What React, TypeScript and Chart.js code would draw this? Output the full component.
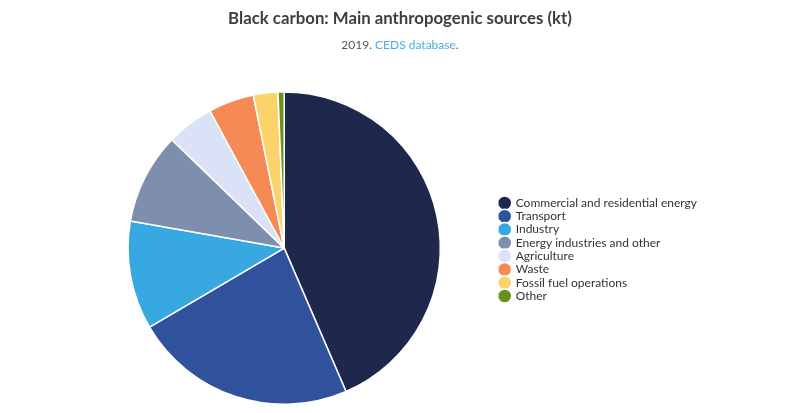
import React, { useEffect, useRef } from "react";
import { Chart, registerables } from "chart.js";

Chart.register(...registerables);

const categories = [
  "Commercial and residential energy",
  "Transport",
  "Industry",
  "Energy industries and other",
  "Agriculture",
  "Waste",
  "Fossil fuel operations",
  "Other",
];
const values = [2400, 1270, 620, 520, 270, 260, 140, 35];
const colors = [
  "#1e284c",
  "#30519b",
  "#38a9e0",
  "#7e8fae",
  "#d9e2f6",
  "#f58a55",
  "#fcd36a",
  "#6a8f1a",
];
const titleText = "Black carbon: Main anthropogenic sources (kt)";
const subtitleParts = ["2019. ", "CEDS database", "."];

const headerPlugin = {
  id: "header",
  afterDraw(chart: any) {
    const ctx = chart.ctx;
    ctx.save();
    ctx.textBaseline = "middle";
    ctx.textAlign = "center";
    ctx.font = "bold 16.8px Lato";
    ctx.fillStyle = "#3d3d3d";
    ctx.fillText(titleText, chart.width / 2, 18.5);
    ctx.font = "12px Lato";
    ctx.textAlign = "left";
    const cols = ["#555555", "#45b0e5", "#555555"];
    const widths = subtitleParts.map((p) => ctx.measureText(p).width);
    const total = widths.reduce((a, b) => a + b, 0);
    let x = chart.width / 2 - total / 2;
    subtitleParts.forEach((p, i) => {
      ctx.fillStyle = cols[i];
      ctx.fillText(p, x, 45);
      x += widths[i];
    });
    ctx.restore();
  },
};

export default function App() {
  const ref = useRef<HTMLCanvasElement | null>(null);
  useEffect(() => {
    if (!ref.current) return;
    const chart = new Chart(ref.current, {
      type: "pie",
      data: {
        labels: categories,
        datasets: [
          {
            data: values,
            backgroundColor: colors,
            borderColor: "#ffffff",
            borderWidth: 1.5,
          },
        ],
      },
      options: {
        animation: false,
        responsive: true,
        maintainAspectRatio: false,
        layout: { padding: { left: 70, right: 93, bottom: 8 } },
        plugins: {
          title: {
            display: true,
            text: " ",
            color: "rgba(0,0,0,0)",
            font: { family: "Lato", size: 16.5, weight: "bold" },
            padding: { top: 8, bottom: 10 },
          },
          subtitle: {
            display: true,
            text: " ",
            color: "rgba(0,0,0,0)",
            font: { family: "Lato", size: 12 },
            padding: { top: 0, bottom: 39 },
          },
          legend: {
            position: "right",
            align: "center",
            title: {
              display: true,
              text: " ",
              color: "rgba(0,0,0,0)",
              font: { family: "Lato", size: 10 },
              padding: { top: 41, bottom: 41 },
            },
            labels: {
              usePointStyle: true,
              pointStyle: "circle",
              boxWidth: 10,
              boxHeight: 10,
              padding: 1.3,
              color: "#333333",
              font: { family: "Lato", size: 12 },
            },
          },
          tooltip: { enabled: false },
        },
      },
      plugins: [headerPlugin],
    });
    return () => chart.destroy();
  }, []);
  return (
    <div style={{ position: "fixed", left: 0, top: 0, width: 800, height: 413, background: "#fff" }}>
      <canvas ref={ref} />
    </div>
  );
}
